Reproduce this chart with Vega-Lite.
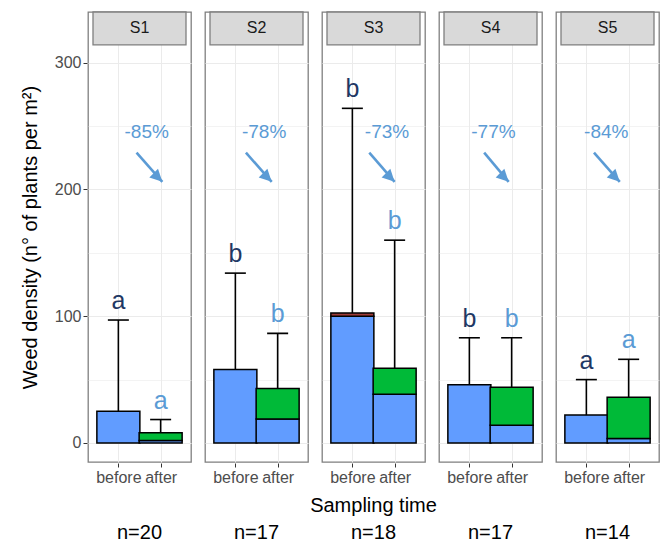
{
  "$schema": "https://vega.github.io/schema/vega-lite/v6.json",
  "padding": {"left": 20, "top": 10, "right": 5, "bottom": 5},
  "background": "white",
  "config": {
    "font": "Liberation Sans",
    "view": {"stroke": "#7F7F7F", "strokeWidth": 1.3},
    "axis": {"domain": false, "labelFont": "Liberation Sans", "titleFont": "Liberation Sans", "titleFontWeight": "normal", "titleColor": "#000000", "labelColor": "#4D4D4D", "tickColor": "#333333", "gridColor": "#EBEBEB"},
    "header": {"labelFont": "Liberation Sans"}
  },
  "data": {
    "values": [
      {"kind": "seg", "site": "S1", "t": 1, "lo": 0, "hi": 25, "part": "lower"},
      {"kind": "seg", "site": "S1", "t": 2, "lo": 0, "hi": 2, "part": "lower"},
      {"kind": "seg", "site": "S1", "t": 2, "lo": 2, "hi": 8, "part": "upper"},
      {"kind": "seg", "site": "S2", "t": 1, "lo": 0, "hi": 58, "part": "lower"},
      {"kind": "seg", "site": "S2", "t": 2, "lo": 0, "hi": 19, "part": "lower"},
      {"kind": "seg", "site": "S2", "t": 2, "lo": 19, "hi": 43, "part": "upper"},
      {"kind": "seg", "site": "S3", "t": 1, "lo": 0, "hi": 100, "part": "lower"},
      {"kind": "seg", "site": "S3", "t": 1, "lo": 100, "hi": 102.5, "part": "mark"},
      {"kind": "seg", "site": "S3", "t": 2, "lo": 0, "hi": 38.5, "part": "lower"},
      {"kind": "seg", "site": "S3", "t": 2, "lo": 38.5, "hi": 59, "part": "upper"},
      {"kind": "seg", "site": "S4", "t": 1, "lo": 0, "hi": 46, "part": "lower"},
      {"kind": "seg", "site": "S4", "t": 2, "lo": 0, "hi": 14, "part": "lower"},
      {"kind": "seg", "site": "S4", "t": 2, "lo": 14, "hi": 44, "part": "upper"},
      {"kind": "seg", "site": "S5", "t": 1, "lo": 0, "hi": 22, "part": "lower"},
      {"kind": "seg", "site": "S5", "t": 2, "lo": 0, "hi": 3.5, "part": "lower"},
      {"kind": "seg", "site": "S5", "t": 2, "lo": 3.5, "hi": 36, "part": "upper"},
      {"kind": "box", "site": "S1", "t": 1, "time": "before", "top": 25, "whisk": 97, "letter": "a"},
      {"kind": "box", "site": "S1", "t": 2, "time": "after", "top": 8, "whisk": 18.5, "letter": "a"},
      {"kind": "box", "site": "S2", "t": 1, "time": "before", "top": 58, "whisk": 134, "letter": "b"},
      {"kind": "box", "site": "S2", "t": 2, "time": "after", "top": 43, "whisk": 86.5, "letter": "b"},
      {"kind": "box", "site": "S3", "t": 1, "time": "before", "top": 102.5, "whisk": 264, "letter": "b"},
      {"kind": "box", "site": "S3", "t": 2, "time": "after", "top": 59, "whisk": 160, "letter": "b"},
      {"kind": "box", "site": "S4", "t": 1, "time": "before", "top": 46, "whisk": 83, "letter": "b"},
      {"kind": "box", "site": "S4", "t": 2, "time": "after", "top": 44, "whisk": 83, "letter": "b"},
      {"kind": "box", "site": "S5", "t": 1, "time": "before", "top": 22, "whisk": 50, "letter": "a"},
      {"kind": "box", "site": "S5", "t": 2, "time": "after", "top": 36, "whisk": 66, "letter": "a"},
      {"kind": "note", "site": "S1", "pct": "-85%", "tx": 1.67, "ax": 1.43, "ax2": 2.04},
      {"kind": "note", "site": "S2", "pct": "-78%", "tx": 1.68, "ax": 1.25, "ax2": 1.86},
      {"kind": "note", "site": "S3", "pct": "-73%", "tx": 1.82, "ax": 1.40, "ax2": 2.0},
      {"kind": "note", "site": "S4", "pct": "-77%", "tx": 1.57, "ax": 1.35, "ax2": 1.93},
      {"kind": "note", "site": "S5", "pct": "-84%", "tx": 1.47, "ax": 1.18, "ax2": 1.79}
    ]
  },
  "facet": {
    "column": {
      "field": "site",
      "type": "nominal",
      "header": {
        "title": null,
        "labelOrient": "bottom",
        "labelFontSize": 20,
        "labelColor": "#000000",
        "labelPadding": 11,
        "labelLineHeight": 27,
        "labelExpr": "[datum.value === 'S3' ? 'Sampling time' : ' ', {'S1': 'n=20', 'S2': 'n=17', 'S3': 'n=18', 'S4': 'n=17', 'S5': 'n=14'}[datum.value]]"
      }
    }
  },
  "spacing": 12,
  "spec": {
    "width": 103,
    "height": 450,
    "layer": [
      {
        "transform": [{"filter": "datum.kind === 'seg'"}],
        "mark": {"type": "bar", "width": 43, "stroke": "#000000", "strokeWidth": 1.5},
        "encoding": {
          "x": {
            "field": "t",
            "type": "quantitative",
            "scale": {"domain": [0.4, 2.6], "nice": false, "zero": false},
            "axis": {
              "values": [1, 2],
              "title": null,
              "labelFontSize": 16,
              "labelPadding": 2,
              "tickSize": 4,
              "grid": true,
              "labelExpr": "datum.value === 1 ? 'before' : 'after'"
            }
          },
          "y": {
            "field": "lo",
            "type": "quantitative",
            "scale": {"domain": [-15, 340], "nice": false, "zero": false},
            "axis": {
              "values": [0, 50, 100, 150, 200, 250, 300],
              "title": "Weed density (n° of plants per m²)",
              "titleFontSize": 20,
              "titlePadding": 14,
              "labelFontSize": 16,
              "labelPadding": 2,
              "tickSize": 4,
              "grid": true,
              "labelExpr": "datum.value % 100 === 0 ? datum.label : ''",
              "tickColor": {"condition": {"test": "datum.value % 100 !== 0", "value": "transparent"}, "value": "#333333"},
              "gridWidth": {"condition": {"test": "datum.value % 100 !== 0", "value": 0.6}, "value": 1.1}
            }
          },
          "y2": {"field": "hi"},
          "fill": {
            "field": "part",
            "type": "nominal",
            "scale": {"domain": ["lower", "upper", "mark"], "range": ["#619CFF", "#00BA38", "#9E3B38"]},
            "legend": null
          }
        }
      },
      {
        "transform": [{"filter": "datum.kind === 'box'"}],
        "mark": {"type": "rule", "color": "#000000", "strokeWidth": 1.6},
        "encoding": {
          "x": {"field": "t", "type": "quantitative"},
          "y": {"field": "top", "type": "quantitative"},
          "y2": {"field": "whisk"}
        }
      },
      {
        "transform": [{"filter": "datum.kind === 'box'"}],
        "mark": {"type": "tick", "orient": "horizontal", "color": "#000000", "size": 21, "thickness": 1.6, "opacity": 1},
        "encoding": {
          "x": {"field": "t", "type": "quantitative"},
          "y": {"field": "whisk", "type": "quantitative"}
        }
      },
      {
        "transform": [{"filter": "datum.kind === 'box'"}],
        "mark": {"type": "text", "fontSize": 25, "baseline": "alphabetic", "dy": -11},
        "encoding": {
          "x": {"field": "t", "type": "quantitative"},
          "y": {"field": "whisk", "type": "quantitative"},
          "text": {"field": "letter"},
          "color": {"condition": {"test": "datum.time === 'before'", "value": "#1F3864"}, "value": "#5B9BD5"}
        }
      },
      {
        "transform": [{"filter": "datum.kind === 'note'"}],
        "mark": {"type": "text", "fontSize": 19, "baseline": "middle", "color": "#5B9BD5"},
        "encoding": {
          "x": {"field": "tx", "type": "quantitative"},
          "y": {"datum": 245, "type": "quantitative"},
          "text": {"field": "pct"}
        }
      },
      {
        "transform": [{"filter": "datum.kind === 'note'"}],
        "mark": {"type": "rule", "color": "#5B9BD5", "strokeWidth": 2.6},
        "encoding": {
          "x": {"field": "ax", "type": "quantitative"},
          "x2": {"field": "ax2"},
          "y": {"datum": 229, "type": "quantitative"},
          "y2": {"datum": 206}
        }
      },
      {
        "transform": [{"filter": "datum.kind === 'note'"}],
        "mark": {"type": "point", "shape": "M0,0L-1,-0.5L-1,0.5Z", "filled": true, "size": 600, "angle": 45, "color": "#5B9BD5", "opacity": 1},
        "encoding": {
          "x": {"field": "ax2", "type": "quantitative"},
          "y": {"datum": 206, "type": "quantitative"}
        }
      },
      {
        "transform": [{"filter": "datum.kind === 'note'"}],
        "mark": {"type": "rect", "fill": "#D9D9D9", "stroke": "#7F7F7F", "strokeWidth": 1.3},
        "encoding": {
          "x": {"datum": 0.4, "type": "quantitative"},
          "x2": {"datum": 2.6},
          "y": {"datum": 314, "type": "quantitative"},
          "y2": {"datum": 340}
        }
      },
      {
        "transform": [{"filter": "datum.kind === 'note'"}],
        "mark": {"type": "text", "fontSize": 16, "baseline": "middle", "color": "#1A1A1A"},
        "encoding": {
          "x": {"datum": 1.5, "type": "quantitative"},
          "y": {"datum": 327, "type": "quantitative"},
          "text": {"field": "site"}
        }
      }
    ]
  }
}
